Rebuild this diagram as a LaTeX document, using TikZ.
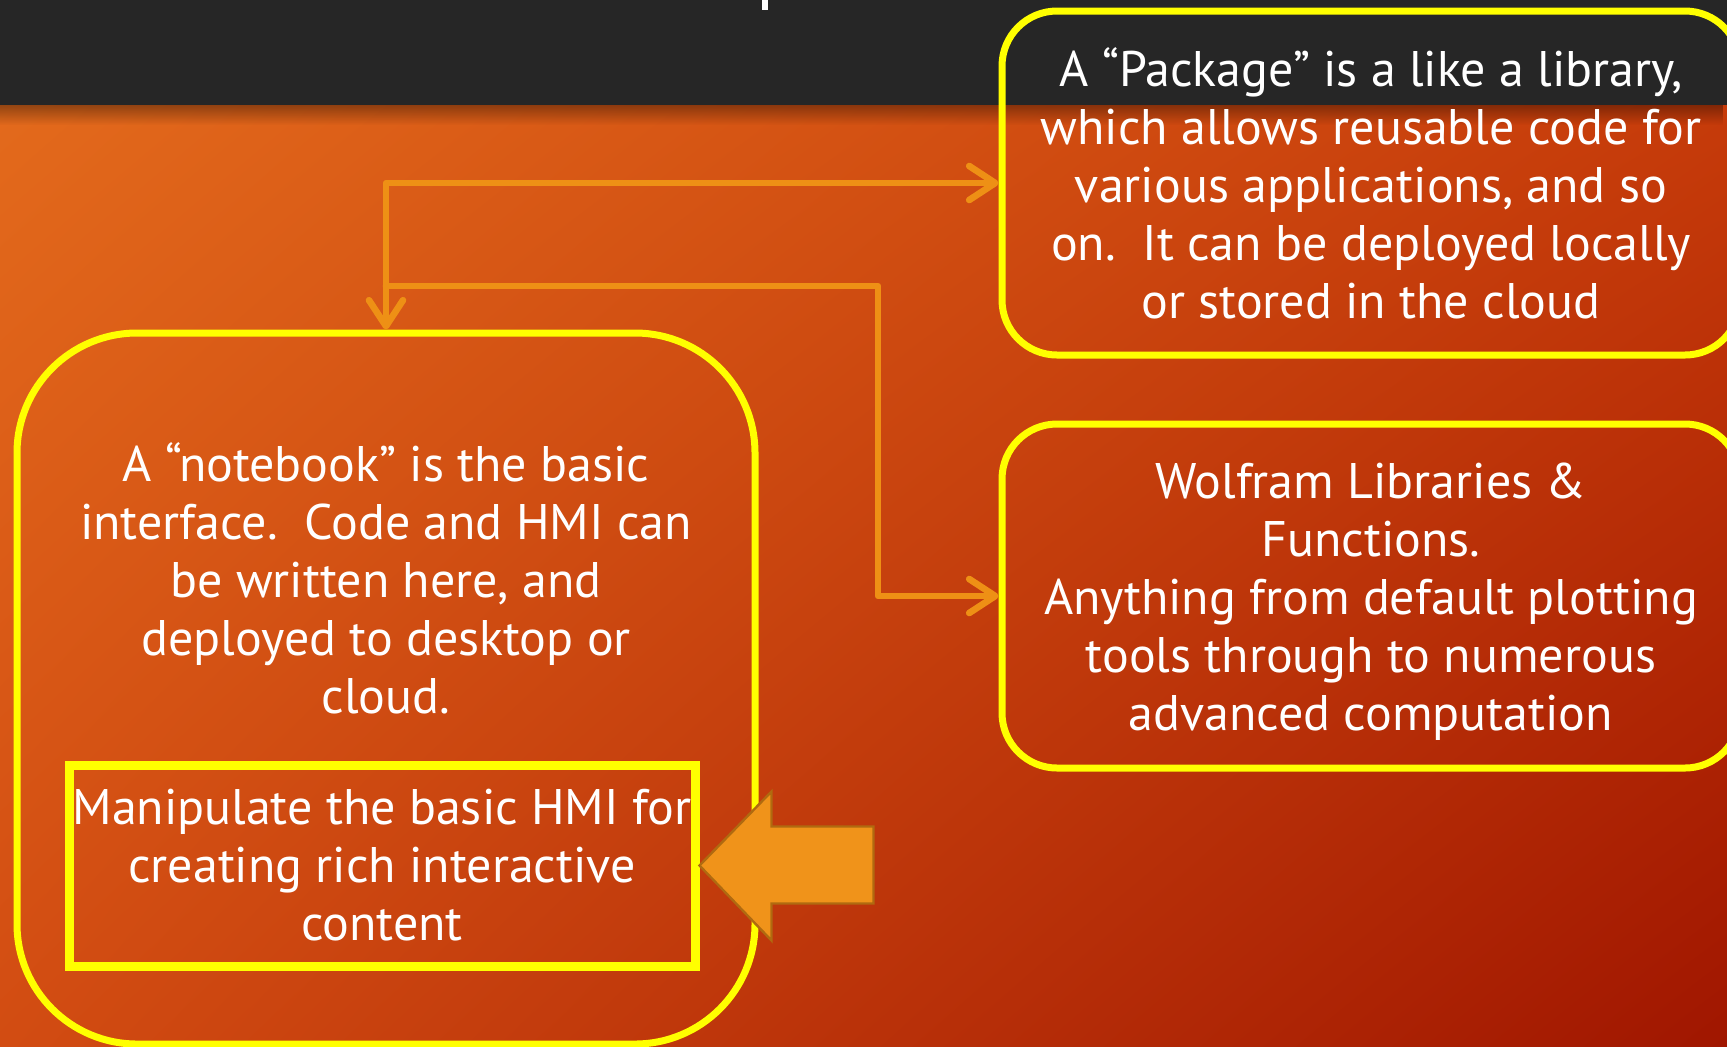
\documentclass[tikz,border=0pt]{standalone}
\usepackage{fontspec}
\setmainfont{PT Sans}
\usetikzlibrary{arrows.meta,fadings,shadings}
\definecolor{barcol}{HTML}{262626}
\definecolor{yel}{HTML}{FFFF00}
\definecolor{conncol}{HTML}{EE9015}
\definecolor{arrfill}{HTML}{F0931A}
\definecolor{arrline}{HTML}{B06A10}
\definecolor{bgUL}{HTML}{E36A1C}
\definecolor{bgUR}{HTML}{C63B0A}
\definecolor{bgLL}{HTML}{D24C12}
\definecolor{bgLR}{HTML}{A01600}
\begin{document}
\begin{tikzpicture}[x=0.5pt,y=-0.5pt,
  txt/.style={text=white, align=center, font=\fontsize{25}{29}\selectfont, inner sep=0pt},
  box/.style={draw=yel, line width=3.5pt, rounded corners=27.5pt, txt},
  conn/.style={draw=conncol, line width=3.3pt, line cap=round, line join=round},
  >={Straight Barb[length=13pt,width=17pt,round]},
  blockarrow/.style={fill=arrfill, draw=arrline, line width=1.2pt, line join=miter}]
\useasboundingbox (0,0) rectangle (1727,1046);
% background
\shade[upper left=bgUL, upper right=bgUR, lower left=bgLL, lower right=bgLR] (0,105) rectangle (1727,1046);
\fill[barcol] (0,0) rectangle (1727,105);
\fill[black, opacity=0.35, path fading=south] (0,105) rectangle (1727,125);
\fill[white] (762,0) rectangle (768,10);
% boxes
\node[box, minimum width=369pt, minimum height=172pt] (pkg) at (1371,183)
  {A “Package” is a like a library,\\ which allows reusable code for\\ various applications, and so\\ on.\ \ It can be deployed locally\\ or stored in the cloud};
\node[box, minimum width=369pt, minimum height=172pt] (wol) at (1371,596) {};
\node[txt] (woltext) at (1371,602)
  {Wolfram Libraries \&\\ Functions.\\ Anything from default plotting\\ tools through to numerous\\ advanced computation};
\node[box, rounded corners=60pt, minimum width=369pt, minimum height=355.5pt] (nb) at (386,688.5) {};
\node[txt] (nbtext) at (386,578)
  {A “notebook” is the basic\\ interface.\ \ Code and HMI can\\ be written here, and\\ deployed to desktop or\\ cloud.};
\node[txt, draw=yel, line width=4.5pt, minimum width=313pt, minimum height=100.5pt] (hmi) at (382,865.5)
  {Manipulate the basic HMI for\\ creating rich interactive\\ content};
% block arrow
\draw[blockarrow] (hmi.east) -- ++(72,-74) -- ++(0,35) -- ++(102,0) -- ++(0,77) -- ++(-102,0) -- ++(0,37) -- cycle;
% connectors
\coordinate (split) at (386,286);
\coordinate (bend) at (878,286);
\draw[conn,<->] (nb.north) |- (pkg.west);
\draw[conn,->] (split) -- (bend) |- (wol.west);
\end{tikzpicture}
\end{document}
